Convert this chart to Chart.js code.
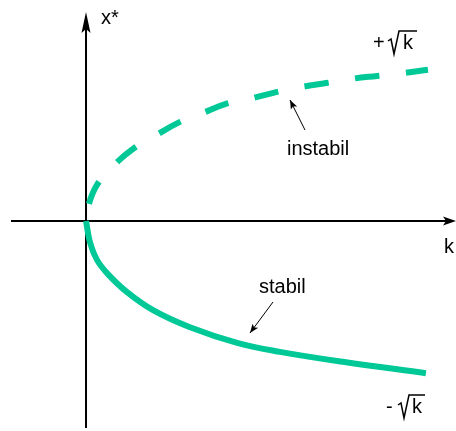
<!DOCTYPE html>
<html>
<head>
<meta charset="utf-8">
<script src="https://cdn.jsdelivr.net/npm/chart.js@4"></script>
<style>
  html, body { margin: 0; padding: 0; background: #fff; }
  canvas { display: block; }
</style>
</head>
<body>
<canvas id="bifurcation" width="456" height="431"></canvas>
<script>
// upper branch (+sqrt k, unstable) and lower branch (-sqrt k, stable)
const kUpper = [0, 0.06, 0.32, 0.85, 1.37, 2.05, 2.69, 3.42, 4.09, 4.85, 5.56, 6.32, 7.02, 7.78, 8.51, 9.27, 10.0];
const xUpper = [0, 0.30, 0.76, 1.20, 1.52, 1.81, 2.07, 2.28, 2.47, 2.59, 2.72, 2.83, 2.91, 3.00, 3.06, 3.12, 3.19];
const kLower = [0, 0.12, 0.32, 0.64, 1.20, 1.96, 3.04, 4.42, 5.67, 7.51, 9.94];
const xLower = [0, -0.46, -0.82, -1.12, -1.50, -1.88, -2.24, -2.57, -2.76, -2.97, -3.21];

const branchNames = ['instabil', 'stabil'];
const axisNames = ['k', 'x*'];

const green = 'rgb(0, 201, 151)';

function toPoints(ks, xs) {
    return ks.map(function(k, i) { return { x: k, y: xs[i] }; });
}

// filled arrow head with a small notch at the back
function arrowHead(ctx, tipX, tipY, angle, len, half, notch) {
    ctx.save();
    ctx.translate(tipX, tipY);
    ctx.rotate(angle);
    ctx.beginPath();
    ctx.moveTo(0, 0);
    ctx.lineTo(-len, -half);
    ctx.lineTo(-len + notch, 0);
    ctx.lineTo(-len, half);
    ctx.closePath();
    ctx.fill();
    ctx.restore();
}

function pointer(ctx, x1, y1, x2, y2) {
    ctx.beginPath();
    ctx.moveTo(x1, y1);
    ctx.lineTo(x2, y2);
    ctx.stroke();
    arrowHead(ctx, x2, y2, Math.atan2(y2 - y1, x2 - x1), 9, 3.5, 2);
}

// sign, radical and k
function rootLabel(ctx, sign, x, base, rootX, kX, barEnd) {
    ctx.fillText(sign, x, base);
    ctx.beginPath();
    ctx.moveTo(rootX, base - 8);
    ctx.lineTo(rootX + 3, base - 10);
    ctx.lineTo(rootX + 6, base + 5);
    ctx.lineTo(rootX + 11, base - 18);
    ctx.lineTo(barEnd, base - 18);
    ctx.stroke();
    ctx.fillText('k', kX, base);
}

const axesPlugin = {
    id: 'axesPlugin',
    beforeDatasetsDraw(chart) {
        const ctx = chart.ctx;
        const x0 = chart.scales.x.getPixelForValue(0);
        const y0 = chart.scales.y.getPixelForValue(0);
        ctx.save();
        ctx.strokeStyle = '#000';
        ctx.fillStyle = '#000';
        ctx.lineWidth = 2;
        ctx.beginPath();
        ctx.moveTo(11, y0);
        ctx.lineTo(450, y0);
        ctx.moveTo(x0, 428);
        ctx.lineTo(x0, 20);
        ctx.stroke();
        arrowHead(ctx, 456, y0, 0, 13, 4.5, 3);
        arrowHead(ctx, x0, 12, -Math.PI / 2, 21, 4.5, 4);
        ctx.restore();
    },
    afterDraw(chart) {
        const ctx = chart.ctx;
        ctx.save();
        ctx.fillStyle = '#000';
        ctx.strokeStyle = '#000';
        ctx.font = '20px "Liberation Sans", Arial, sans-serif';
        ctx.textBaseline = 'alphabetic';
        ctx.fillText(axisNames[0], 444, 253);
        ctx.fillText(axisNames[1], 101, 24);
        ctx.fillText(branchNames[0], 287, 155);
        ctx.fillText(branchNames[1], 259, 293);

        ctx.lineWidth = 1.5;
        rootLabel(ctx, '+', 373, 49, 388, 403, 417);
        rootLabel(ctx, '-', 386, 413, 398, 412, 425);

        ctx.lineWidth = 1;
        pointer(ctx, 305, 130, 290, 100);
        pointer(ctx, 273, 302, 250, 333);
        ctx.restore();
    }
};

new Chart(document.getElementById('bifurcation').getContext('2d'), {
    type: 'line',
    data: {
        datasets: [{
            label: branchNames[0],
            data: toPoints(kUpper, xUpper),
            borderColor: green,
            borderWidth: 6,
            borderDash: [24.5, 26.7],
            borderDashOffset: 34,
            borderCapStyle: 'butt',
            tension: 0.4,
            pointRadius: 0,
            fill: false
        }, {
            label: branchNames[1],
            data: toPoints(kLower, xLower),
            borderColor: green,
            borderWidth: 6,
            borderCapStyle: 'butt',
            tension: 0.4,
            pointRadius: 0,
            fill: false
        }]
    },
    options: {
        responsive: false,
        animation: false,
        layout: { padding: 0 },
        plugins: {
            legend: { display: false },
            tooltip: { enabled: false }
        },
        scales: {
            x: { type: 'linear', display: false, min: -2.515, max: 10.819 },
            y: { type: 'linear', display: false, min: -4.43, max: 4.662 }
        }
    },
    plugins: [axesPlugin]
});
</script>
</body>
</html>
